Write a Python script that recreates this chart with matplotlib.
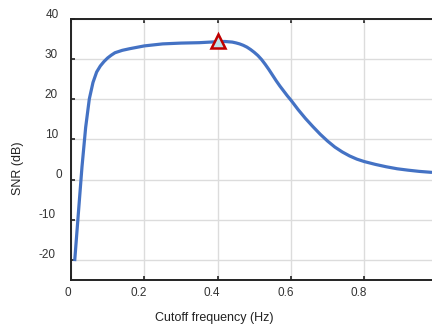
import matplotlib
matplotlib.use("Agg")
import matplotlib.pyplot as plt
from matplotlib.transforms import ScaledTranslation

plt.rcParams['font.family'] = ['Liberation Sans', 'DejaVu Sans']

cutoff = [0.01, 0.02, 0.03, 0.04, 0.05, 0.06, 0.07, 0.08, 0.09, 0.10, 0.11, 0.12,
          0.14, 0.16, 0.20, 0.25, 0.30, 0.35, 0.40, 0.42, 0.44, 0.45, 0.46, 0.47,
          0.48, 0.49, 0.50, 0.51, 0.52, 0.53, 0.54, 0.55, 0.56, 0.57, 0.58, 0.59,
          0.60, 0.62, 0.64, 0.66, 0.68, 0.70, 0.72, 0.74, 0.76, 0.78, 0.80, 0.83,
          0.86, 0.89, 0.92, 0.95, 0.985]
snr = [-20.3, -8.5, 3.2, 13.0, 20.1, 24.2, 26.8, 28.3, 29.4, 30.3, 31.0, 31.6,
       32.2, 32.6, 33.3, 33.8, 34.0, 34.1, 34.35, 34.4, 34.25, 34.05, 33.8, 33.45,
       33.0, 32.4, 31.7, 30.9, 29.9, 28.7, 27.4, 26.0, 24.6, 23.3, 22.1, 20.9,
       19.8, 17.4, 15.2, 13.2, 11.3, 9.6, 8.1, 6.9, 5.9, 5.1, 4.5, 3.8,
       3.2, 2.7, 2.35, 2.05, 1.8]
peak_x = [0.40]
peak_y = [34.6]
xticks = [0, 0.2, 0.4, 0.6, 0.8]
xticklabels = ['0', '0.2', '0.4', '0.6', '0.8']
yticks = [-20, -10, 0, 10, 20, 30, 40]
yticklabels = ['-20', '-10', '0', '10', '20', '30', '40']

W, H = 432, 327
fig = plt.figure(figsize=(W / 100, H / 100), dpi=100)
ax = fig.add_axes([71 / W, 47 / H, 361 / W, 261 / H])

ax.plot(cutoff, snr, color='#4472C4', lw=2.3, solid_capstyle='butt',
        solid_joinstyle='round', zorder=3)
ax.plot(peak_x, peak_y, marker='^', ms=10.5, mfc='#bfe3ea', mec='#c00000',
        mew=1.8, ls='none', zorder=4)

ax.set_xlim(0, 0.985)
ax.set_ylim(-25, 40)
ax.set_xticks(xticks)
ax.set_xticklabels(xticklabels)
ax.set_yticks(yticks)
ax.set_yticklabels(yticklabels)

ax.grid(True, color='#dcdcdc', lw=1.0, zorder=0)
ax.set_axisbelow(True)

for s in ['left', 'bottom', 'top']:
    ax.spines[s].set_color('#222222')
    ax.spines[s].set_linewidth(1.4)
ax.spines['right'].set_visible(False)

ax.tick_params(axis='both', direction='in', length=3, width=1.2, color='#222222',
               labelsize=8.5, labelcolor='#333333')
ax.tick_params(axis='x', top=True, pad=5)
ax.tick_params(axis='y', right=False, pad=9.5)

# offsets of tick labels (pixels) as seen in reference
ydx = {'-20': -2.5, '-10': -2.5, '0': 4.0, '10': 0, '20': 0, '30': 0, '40': 1.0}
for t in ax.yaxis.get_major_ticks():
    lab = t.label1
    dx = ydx.get(lab.get_text(), 0)
    lab.set_transform(lab.get_transform() + ScaledTranslation(dx / 100, 6 / 100, fig.dpi_scale_trans))
for t, txt in zip(ax.xaxis.get_major_ticks(), xticklabels):
    dx = -3 if txt == '0' else -5.5
    lab = t.label1
    lab.set_transform(lab.get_transform() + ScaledTranslation(dx / 100, 0, fig.dpi_scale_trans))

ax.set_xlabel('Cutoff frequency (Hz)', fontsize=9, color='#222222')
ax.xaxis.set_label_coords((214 - 71) / 361, (280 - 312) / 261)
ax.set_ylabel('SNR (dB)', fontsize=9, color='#222222')
ax.yaxis.set_label_coords((24 - 71) / 361, (280 - 168) / 261)

fig.savefig('out.png', dpi=100)
